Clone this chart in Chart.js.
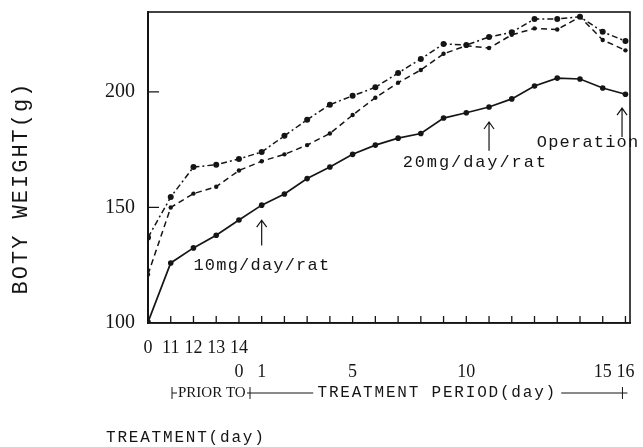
<!DOCTYPE html>
<html>
<head>
<meta charset="utf-8">
<script src="https://cdn.jsdelivr.net/npm/chart.js@4.4.1/dist/chart.umd.min.js"></script>
<style>
	html, body { margin: 0; padding: 0; background: #fff; }
	#wrap { width: 643px; height: 447px; }
</style>
</head>
<body>
<div id="wrap"><canvas id="weightChart" width="643" height="447"></canvas></div>
<script>
(function () {
	'use strict';

	// positions along the x axis (0..4 before treatment, then treatment days)
	var days = [0, 1, 2, 3, 4, 5, 6, 7, 8, 9, 10, 11, 12, 13, 14, 15, 16, 17, 18, 19, 20, 21];
	var priorLabels = ['0', '11', '12', '13', '14', '', '', '', '', '', '', '', '', '', '', '', '', '', '', '', '', ''];
	var treatLabels = ['', '', '', '', '0', '1', '', '', '', '5', '', '', '', '', '10', '', '', '', '', '', '15', '16'];
	var yTicks = [100, 150, 200];

	// body weight (g)
	var dashDotLine = [137, 154.5, 167.5, 168.5, 171, 174, 181, 188, 194.5, 198.3, 202, 208.2, 214.3, 220.8, 220.3, 223.8, 225.8, 231.6, 231.6, 232.5, 226, 222];
	var dashedLine = [121, 150, 156, 159, 166, 170, 173, 177, 182, 190, 197.5, 204, 209.5, 216.5, 220, 219, 224.7, 227.5, 227, 232.5, 222.5, 218];
	var solidLine = [100.4, 126, 132.5, 138, 144.6, 151, 155.8, 162.5, 167.5, 173, 177, 180, 182, 188.7, 191, 193.5, 197, 202.6, 206, 205.6, 201.7, 199];

	var ink = '#151515';

	function points(values) {
		return values.map(function (v, i) {
			return { x: days[i], y: v };
		});
	}

	function spacedText(ctx, text, x, y, font, spacing, align) {
		ctx.font = font;
		ctx.letterSpacing = spacing + 'px';
		ctx.textAlign = align || 'left';
		ctx.textBaseline = 'middle';
		ctx.fillText(text, x, y);
		ctx.letterSpacing = '0px';
	}

	function arrowUp(ctx, x, yFrom, yTo) {
		ctx.beginPath();
		ctx.moveTo(x, yFrom);
		ctx.lineTo(x, yTo);
		ctx.moveTo(x - 5, yTo + 7);
		ctx.lineTo(x, yTo);
		ctx.lineTo(x + 5, yTo + 7);
		ctx.stroke();
	}

	// no extra room for the outer tick labels, the frame is fixed by hand
	function noPadding(scale) {
		scale.paddingLeft = 0;
		scale.paddingRight = 0;
		scale.paddingTop = 0;
		scale.paddingBottom = 0;
	}

	var paper = {
		id: 'paper',
		afterDraw: function (chart) {
			var ctx = chart.ctx,
				a = chart.chartArea,
				xs = chart.scales.x,
				ys = chart.scales.y;

			ctx.save();
			ctx.strokeStyle = ink;
			ctx.fillStyle = ink;

			// frame
			ctx.lineWidth = 1.6;
			ctx.strokeRect(a.left, a.top, a.right - a.left, a.bottom - a.top);

			// inward ticks
			ctx.lineWidth = 1.3;
			ctx.beginPath();
			days.forEach(function (d) {
				if (d === 0) return;
				var px = xs.getPixelForValue(d);
				ctx.moveTo(px, a.bottom);
				ctx.lineTo(px, a.bottom - 7);
			});
			[150, 200].forEach(function (v) {
				var py = ys.getPixelForValue(v);
				ctx.moveTo(a.left, py);
				ctx.lineTo(a.left + 11, py);
			});
			ctx.stroke();

			// notes on the curves
			ctx.lineWidth = 1.2;
			arrowUp(ctx, xs.getPixelForValue(5), ys.getPixelForValue(133.5), ys.getPixelForValue(144.5));
			arrowUp(ctx, xs.getPixelForValue(15), ys.getPixelForValue(174.5), ys.getPixelForValue(187));
			arrowUp(ctx, xs.getPixelForValue(20.85), ys.getPixelForValue(180.5), ys.getPixelForValue(193));
			spacedText(ctx, '10mg/day/rat', xs.getPixelForValue(2), ys.getPixelForValue(125), '17px "Liberation Mono"', 1.2);
			spacedText(ctx, '20mg/day/rat', xs.getPixelForValue(11.2), ys.getPixelForValue(169.5), '17px "Liberation Mono"', 1.9);
			spacedText(ctx, 'Operation', xs.getPixelForValue(17.1), ys.getPixelForValue(178), '17px "Liberation Mono"', 1.2);

			// period row under the day numbers
			var rowY = 393,
				x0 = a.left + 24,
				xSplit = a.left + 102,
				xEnd = xs.getPixelForValue(21) - 3,
				mid = (xSplit + xEnd) / 2 + 1,
				half = 120;
			ctx.lineWidth = 1;
			ctx.beginPath();
			ctx.moveTo(x0, rowY - 6); ctx.lineTo(x0, rowY + 6);
			ctx.moveTo(x0, rowY); ctx.lineTo(x0 + 5, rowY);
			ctx.moveTo(xSplit, rowY - 6); ctx.lineTo(xSplit, rowY + 6);
			ctx.moveTo(xSplit - 3, rowY); ctx.lineTo(mid - half - 4, rowY);
			ctx.moveTo(mid + half + 4, rowY); ctx.lineTo(xEnd + 5, rowY);
			ctx.moveTo(xEnd, rowY - 6); ctx.lineTo(xEnd, rowY + 6);
			ctx.stroke();
			spacedText(ctx, 'PRIOR TO', x0 + 6, rowY, '15px "Liberation Serif"', 0);
			spacedText(ctx, 'TREATMENT PERIOD(day)', mid, rowY, '16px "Liberation Mono"', 1.8, 'center');
			spacedText(ctx, 'TREATMENT(day)', 106, 438, '16px "Liberation Mono"', 1.8);

			// y title
			ctx.translate(21, 188);
			ctx.rotate(-Math.PI / 2);
			spacedText(ctx, 'BOTY WEIGHT(g)', 0, 0, '22px "Liberation Mono"', 2, 'center');
			ctx.restore();
		}
	};

	new Chart(document.getElementById('weightChart'), {
		type: 'line',
		data: {
			datasets: [{
					label: 'dash-dot',
					data: points(dashDotLine),
					borderColor: ink,
					borderWidth: 1.5,
					borderDash: [6, 3, 2, 3],
					pointRadius: 3,
					pointBackgroundColor: ink,
					pointBorderWidth: 0
				},
				{
					label: 'dashed',
					data: points(dashedLine),
					borderColor: ink,
					borderWidth: 1.5,
					borderDash: [6, 4],
					pointRadius: 2.2,
					pointBackgroundColor: ink,
					pointBorderWidth: 0
				},
				{
					label: 'solid',
					data: points(solidLine),
					borderColor: ink,
					borderWidth: 1.7,
					pointRadius: 2.8,
					pointBackgroundColor: ink,
					pointBorderWidth: 0
				}
			]
		},
		options: {
			responsive: false,
			animation: false,
			layout: {
				padding: { top: 12, right: 13 }
			},
			plugins: {
				legend: { display: false },
				tooltip: { enabled: false }
			},
			scales: {
				x: {
					type: 'linear',
					min: 0,
					max: 21.2,
					afterBuildTicks: function (scale) {
						scale.ticks = days.map(function (d) { return { value: d }; });
					},
					afterFit: function (scale) {
						scale.height = 124;
						noPadding(scale);
					},
					grid: { display: false, drawTicks: false },
					border: { color: ink, width: 1.6 },
					ticks: {
						autoSkip: false,
						maxRotation: 0,
						padding: 13,
						color: ink,
						font: { family: 'Liberation Serif', size: 18, lineHeight: 1.333 },
						callback: function (value) {
							return [priorLabels[value], treatLabels[value]];
						}
					}
				},
				y: {
					min: 100,
					max: 234.6,
					afterBuildTicks: function (scale) {
						scale.ticks = yTicks.map(function (v) { return { value: v }; });
					},
					afterFit: function (scale) {
						scale.width = 148;
						noPadding(scale);
					},
					grid: { display: false, drawTicks: false },
					border: { color: ink, width: 2 },
					ticks: {
						padding: 13,
						color: ink,
						font: { family: 'Liberation Serif', size: 20 }
					}
				}
			}
		},
		plugins: [paper]
	});
})();
</script>
</body>
</html>
